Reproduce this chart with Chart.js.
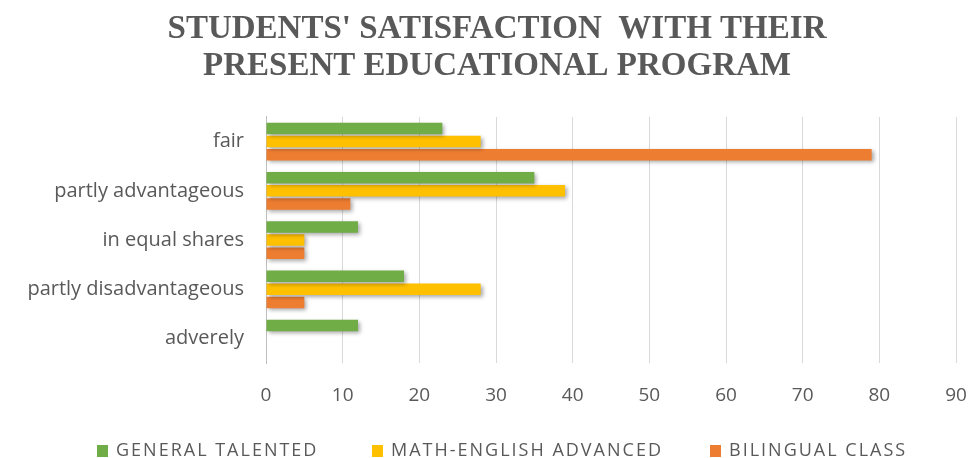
<!DOCTYPE html>
<html>
<head>
<meta charset="utf-8">
<script src="https://cdn.jsdelivr.net/npm/chart.js@4/dist/chart.umd.min.js"></script>
<style>
  body { margin: 0; background: #fff; }
  #wrap { position: relative; width: 969px; height: 458px; }
  #legend { position: absolute; left: 0; top: 440px; width: 969px; height: 18px;
            font-family: "Open Sans", sans-serif; font-size: 18px; color: #595959; letter-spacing: 2px; }
  #legend .item { position: absolute; top: 0; white-space: nowrap; line-height: 18px; }
  #legend .box { display: inline-block; width: 11px; height: 12px; margin-right: 8px; vertical-align: -1px; }
</style>
</head>
<body>
<div id="wrap">
  <canvas id="satisfactionChart"></canvas>
  <div id="legend"></div>
</div>
<script>
// data
const categories = ['fair', 'partly advantageous', 'in equal shares', 'partly disadvantageous', 'adverely'];
const generalTalented = [23, 35, 12, 18, 12];
const mathEnglish = [28, 39, 5, 28, 0];
const bilingual = [79, 11, 5, 5, 0];
const seriesNames = ['GENERAL TALENTED', 'MATH-ENGLISH ADVANCED', 'BILINGUAL CLASS'];
const seriesColors = ['#70AD47', '#FFC000', '#ED7D31'];
const xTicksMax = 90;

// soft drop shadow under the bars, like the office chart
const barShadow = {
    id: 'barShadow',
    beforeDatasetsDraw(chart) {
        const ctx = chart.ctx;
        ctx.save();
        ctx.shadowColor = 'rgba(0,0,0,0.35)';
        ctx.shadowBlur = 4;
        ctx.shadowOffsetX = 2;
        ctx.shadowOffsetY = 2;
    },
    afterDatasetsDraw(chart) {
        chart.ctx.restore();
    }
};

// the original title sits a bit right of the canvas centre
const titleShift = {
    id: 'titleShift',
    afterLayout(chart) {
        if (chart.titleBlock) chart.titleBlock.left += 38;
    }
};

const ctx = document.getElementById('satisfactionChart').getContext('2d');
const chart = new Chart(ctx, {
    type: 'bar',
    data: {
        labels: categories,
        datasets: [
            { label: seriesNames[0], data: generalTalented, backgroundColor: seriesColors[0] },
            { label: seriesNames[1], data: mathEnglish, backgroundColor: seriesColors[1] },
            { label: seriesNames[2], data: bilingual, backgroundColor: seriesColors[2] }
        ]
    },
    options: {
        indexAxis: 'y',
        responsive: true,
        maintainAspectRatio: false,
        animation: false,
        categoryPercentage: 0.8,
        barPercentage: 0.88,
        layout: {
            padding: { left: 0, right: 13, top: 0, bottom: 30 }
        },
        scales: {
            x: {
                min: 0,
                max: xTicksMax,
                afterFit(scale) {
                    // don't let the tick padding eat the right margin
                    scale.paddingLeft = 0;
                    scale.paddingRight = 0;
                },
                ticks: {
                    stepSize: 10,
                    padding: 21,
                    color: '#595959',
                    font: { family: 'Open Sans', size: 19 }
                },
                grid: { color: '#d9d9d9', drawTicks: false },
                border: { display: false }
            },
            y: {
                afterFit(scale) { scale.width = 266; },
                ticks: {
                    padding: 22,
                    color: '#595959',
                    font: { family: 'Open Sans', size: 20 }
                },
                grid: { display: false, drawTicks: false },
                border: { display: true, color: '#bfbfbf' }
            }
        },
        plugins: {
            legend: { display: false },
            tooltip: { enabled: false },
            title: {
                display: true,
                text: ["STUDENTS' SATISFACTION  WITH THEIR", 'PRESENT EDUCATIONAL PROGRAM'],
                color: '#595959',
                font: { family: 'Liberation Serif', size: 33, weight: 'bold', lineHeight: 1.12 },
                padding: { top: 11, bottom: 32 }
            }
        }
    },
    plugins: [barShadow, titleShift]
});

// html legend under the canvas
const legend = document.getElementById('legend');
const legendLeft = [97, 372, 710];
seriesNames.forEach(function(name, i) {
    const item = document.createElement('div');
    item.className = 'item';
    item.style.left = legendLeft[i] + 'px';
    item.innerHTML = '<span class="box" style="background:' + seriesColors[i] + '"></span>' + name;
    legend.appendChild(item);
});
</script>
</body>
</html>
